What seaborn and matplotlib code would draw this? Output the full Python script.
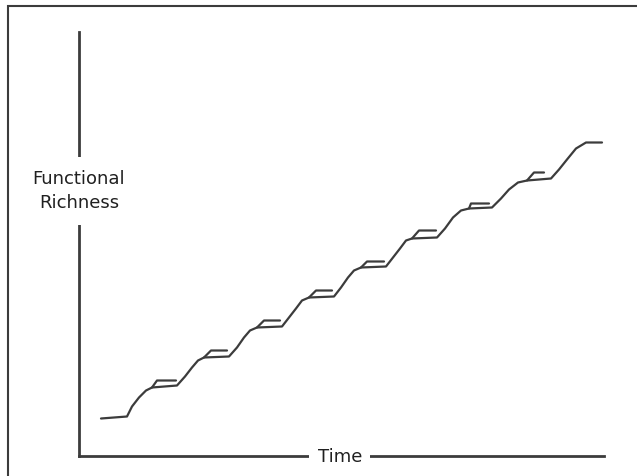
import matplotlib
matplotlib.use("Agg")
import pandas as pd
import matplotlib.pyplot as plt
from matplotlib.patches import Rectangle
import seaborn as sns

# ---- data ----
# main staircase curve: time vs functional richness
time = [22, 48, 53, 60, 67, 73, 98, 106, 113, 119, 125, 150, 158, 165, 171, 178,
        203, 210, 217, 223, 230, 255, 262, 269, 275, 282, 307, 314, 321, 327, 333,
        358, 366, 374, 382, 390, 413, 422, 430, 439, 448, 472, 480, 488, 497, 507, 523]
richness = [37, 39, 49, 58, 65, 68, 70, 79, 88, 95, 98, 99, 108, 118, 125, 128,
            129, 138, 147, 155, 158, 159, 168, 178, 185, 188, 189, 198, 207, 215, 217,
            218, 227, 238, 245, 247, 248, 257, 266, 273, 275, 277, 286, 296, 307, 313, 313]

# upper strand on each plateau (splits off the curve, runs flat, ends)
branch_start_x = [73, 125, 178, 230, 282, 333, 390, 448]
branch_start_y = [68, 98, 128, 158, 188, 217, 247, 275]
branch_kink_x = [78, 132, 185, 237, 288, 340, 392, 455]
branch_y = [75, 105, 135, 165, 194, 225, 252, 283]
branch_end_x = [97, 148, 201, 253, 305, 357, 410, 465]

x_label = "Time"
y_label = "Functional\nRichness"

# ---- build tables ----
df_curve = pd.DataFrame({"t": time, "r": richness})
rows = []
for i in range(len(branch_start_x)):
    rows.append((i, branch_start_x[i], branch_start_y[i]))
    rows.append((i, branch_kink_x[i], branch_y[i]))
    rows.append((i, branch_end_x[i], branch_y[i]))
df_branch = pd.DataFrame(rows, columns=["strand", "t", "r"])

# ---- plot ----
sns.set_style("white")
plt.rcParams["font.family"] = ["DejaVu Sans"]
ink = "#3c3c3c"

fig = plt.figure(figsize=(6.37, 4.76), dpi=100)
ax = fig.add_axes([79 / 637, 20.5 / 476, 525 / 637, 424 / 476])

sns.lineplot(data=df_curve, x="t", y="r", sort=False, estimator=None,
             color=ink, linewidth=1.6, ax=ax)
sns.lineplot(data=df_branch, x="t", y="r", units="strand", sort=False,
             estimator=None, color=ink, linewidth=1.6, ax=ax)

ax.set_xlim(0, 525)
ax.set_ylim(0, 424)
ax.set_xticks([])
ax.set_yticks([])
ax.set_xlabel("")
ax.set_ylabel("")
sns.despine(ax=ax)
for side in ["left", "bottom"]:
    ax.spines[side].set_color(ink)
    ax.spines[side].set_linewidth(2)

# axis labels sit on top of the axis lines, blanking them out
ax.text(0.0, 0.624, y_label, transform=ax.transAxes, ha="center", va="center",
        fontsize=13, linespacing=1.45, color="#202020", zorder=5,
        bbox=dict(facecolor="white", edgecolor="none", pad=9))
ax.text(0.497, 0.0, x_label, transform=ax.transAxes, ha="center",
        va="center_baseline", fontsize=13, color="#202020", zorder=5,
        bbox=dict(facecolor="white", edgecolor="none", pad=6))

# outer frame, cut off at the right and bottom edges
fig.add_artist(Rectangle((8 / 637, -0.5), 2.0, 0.5 + (476 - 5.5) / 476,
                         transform=fig.transFigure, fill=False,
                         edgecolor=ink, linewidth=1.5))

fig.savefig("out.png", dpi=100)
plt.close(fig)
